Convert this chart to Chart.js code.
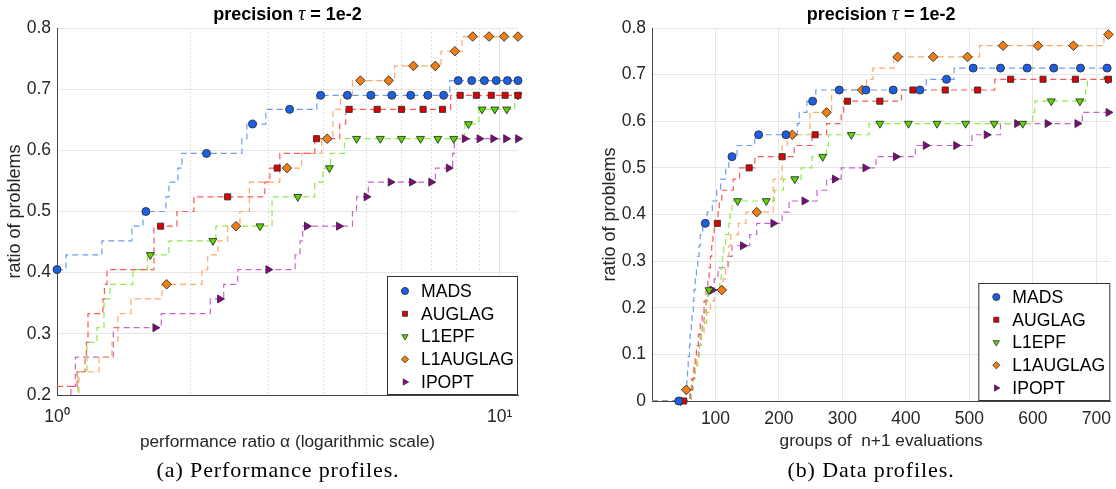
<!DOCTYPE html>
<html>
<head>
<meta charset="utf-8">
<script src="https://cdn.jsdelivr.net/npm/chart.js"></script>
<style>
  html, body { margin: 0; padding: 0; background: #fff; }
  body { width: 1116px; height: 489px; position: relative; overflow: hidden; }
  .panel { position: absolute; top: 0; }
  #perf-panel { left: 0; width: 540px; height: 460px; }
  #data-panel { left: 595px; width: 521px; height: 460px; }
  .caption {
    position: absolute; top: 458px; line-height: 24px;
    font-family: "Liberation Serif", serif; font-size: 22px; letter-spacing: 0.9px;
    color: #000; white-space: nowrap; transform: translateX(-50%);
  }
</style>
</head>
<body>
<div class="panel" id="perf-panel"><canvas id="perf-canvas" width="540" height="460"></canvas></div>
<div class="panel" id="data-panel"><canvas id="data-canvas" width="521" height="460"></canvas></div>
<div class="caption" style="left:278px">(a) Performance profiles.</div>
<div class="caption" style="left:871px">(b) Data profiles.</div>

<script>
// solvers and the look of their markers / lines
const solvers = ['MADS', 'AUGLAG', 'L1EPF', 'L1AUGLAG', 'IPOPT'];
const markerFill = ['#1a5fe4', '#e00000', '#5ad600', '#f07f12', '#8b008b'];
const lineColor = ['#6d9cf2', '#ff5757', '#90ea48', '#ffa866', '#c865c8'];
const markerShape = ['circle', 'rect', 'triangle', 'rectRot', 'triangle'];
const markerRotation = [0, 0, 180, 0, 90];
const markerRadius = [4, 4.3, 4.6, 4.8, 4.6];

const titleParts = ['precision ', '\u03c4', ' = 1e-2'];
const perfTickValues = [1, 2, 3, 4, 5, 6, 7, 8, 9, 10];
const perfTickLabels = ['10\u2070', '', '', '', '', '', '', '', '', '10\u00b9'];

// (a) performance profiles: [ratio alpha, share of problems]
const perfStepsMads = [[1, 0.405], [1.048, 0.429], [1.263, 0.452], [1.476, 0.476], [1.564, 0.5], [1.762, 0.524], [1.79, 0.548], [1.876, 0.571], [1.915, 0.595], [2.616, 0.619], [2.685, 0.643], [2.963, 0.667], [3.863, 0.69], [7.712, 0.714], [11, 0.714]];
const perfStepsAuglag = [[1, 0.214], [1.11, 0.238], [1.157, 0.262], [1.165, 0.286], [1.175, 0.333], [1.27, 0.357], [1.28, 0.381], [1.297, 0.405], [1.656, 0.476], [1.866, 0.5], [2.038, 0.524], [2.948, 0.548], [3.026, 0.571], [3.187, 0.595], [3.823, 0.619], [4.353, 0.643], [4.49, 0.667], [7.75, 0.69], [11, 0.69]];
const perfStepsL1epf = [[1, 0.19], [1.115, 0.238], [1.169, 0.286], [1.231, 0.31], [1.277, 0.357], [1.317, 0.381], [1.484, 0.405], [1.6, 0.429], [1.79, 0.452], [2.285, 0.476], [3.06, 0.524], [3.82, 0.548], [3.99, 0.571], [4.15, 0.595], [4.46, 0.619], [8.34, 0.643], [8.97, 0.667], [10.81, 0.69], [11, 0.69]];
const perfStepsL1auglag = [[1, 0.19], [1.121, 0.238], [1.244, 0.262], [1.331, 0.286], [1.373, 0.333], [1.469, 0.357], [1.727, 0.381], [2.126, 0.405], [2.19, 0.429], [2.31, 0.452], [2.43, 0.476], [2.59, 0.5], [2.72, 0.548], [3.187, 0.571], [3.57, 0.595], [3.96, 0.619], [4.2, 0.667], [4.37, 0.69], [4.65, 0.714], [5.79, 0.738], [7.37, 0.762], [8.22, 0.786], [11, 0.786]];
const perfStepsIpopt = [[1, 0.19], [1.075, 0.214], [1.1, 0.262], [1.34, 0.31], [1.72, 0.333], [2.22, 0.357], [2.38, 0.381], [2.56, 0.405], [3.45, 0.429], [3.54, 0.452], [3.59, 0.476], [4.65, 0.5], [4.75, 0.524], [5.05, 0.548], [7.16, 0.571], [7.83, 0.595], [7.9, 0.619], [11, 0.619]];

const perfMarksMads = [[1, 0.405], [1.588, 0.5], [2.176, 0.595], [2.765, 0.643], [3.353, 0.667], [3.941, 0.69], [4.529, 0.69], [5.118, 0.69], [5.706, 0.69], [6.294, 0.69], [6.882, 0.69], [7.471, 0.69], [8.059, 0.714], [8.647, 0.714], [9.235, 0.714], [9.824, 0.714], [10.412, 0.714], [11, 0.714]];
const perfMarksAuglag = [[1.714, 0.476], [2.429, 0.524], [3.143, 0.571], [3.857, 0.619], [4.571, 0.667], [5.286, 0.667], [6, 0.667], [6.714, 0.667], [7.429, 0.667], [8.143, 0.69], [8.857, 0.69], [9.571, 0.69], [10.286, 0.69], [11, 0.69]];
const perfMarksL1epf = [[1.625, 0.429], [2.25, 0.452], [2.875, 0.476], [3.5, 0.524], [4.125, 0.571], [4.75, 0.619], [5.375, 0.619], [6, 0.619], [6.625, 0.619], [7.25, 0.619], [7.875, 0.619], [8.5, 0.643], [9.125, 0.667], [9.75, 0.667], [10.375, 0.667], [11, 0.69]];
const perfMarksL1auglag = [[1.769, 0.381], [2.538, 0.476], [3.308, 0.571], [4.077, 0.619], [4.846, 0.714], [5.615, 0.714], [6.385, 0.738], [7.154, 0.738], [7.923, 0.762], [8.692, 0.786], [9.462, 0.786], [10.231, 0.786], [11, 0.786]];
const perfMarksIpopt = [[1.667, 0.31], [2.333, 0.357], [3, 0.405], [3.667, 0.476], [4.333, 0.476], [5, 0.524], [5.667, 0.548], [6.333, 0.548], [7, 0.548], [7.667, 0.571], [8.333, 0.619], [9, 0.619], [9.667, 0.619], [10.333, 0.619], [11, 0.619]];

// (b) data profiles: [groups of n+1 evaluations, share of problems]
const dataStepsMads = [[0, 0], [53, 0.024], [55, 0.048], [56, 0.071], [57, 0.095], [59, 0.119], [60, 0.143], [62, 0.167], [63, 0.19], [65, 0.214], [66, 0.238], [68, 0.262], [70, 0.286], [72, 0.31], [74, 0.333], [76, 0.357], [80, 0.381], [87, 0.405], [95, 0.429], [102, 0.452], [108, 0.476], [116, 0.5], [121, 0.524], [134, 0.548], [162, 0.571], [229, 0.595], [232, 0.619], [244, 0.643], [258, 0.667], [432, 0.69], [476, 0.714], [722, 0.714]];
const dataStepsAuglag = [[0, 0], [60, 0.024], [63, 0.048], [66, 0.071], [68, 0.095], [70, 0.119], [73, 0.143], [76, 0.167], [79, 0.19], [82, 0.214], [85, 0.238], [88, 0.262], [90, 0.286], [92, 0.31], [94, 0.333], [96, 0.357], [98, 0.381], [104, 0.405], [106, 0.429], [110, 0.452], [128, 0.476], [138, 0.5], [162, 0.524], [224, 0.548], [252, 0.571], [275, 0.595], [298, 0.619], [302, 0.643], [393, 0.667], [540, 0.69], [722, 0.69]];
const dataStepsL1epf = [[0, 0], [62, 0.024], [65, 0.048], [68, 0.071], [72, 0.095], [75, 0.119], [77, 0.143], [80, 0.167], [83, 0.19], [86, 0.214], [88, 0.238], [107, 0.262], [109, 0.286], [111, 0.31], [113, 0.333], [116, 0.357], [121, 0.381], [123, 0.405], [126, 0.429], [193, 0.452], [207, 0.476], [235, 0.5], [252, 0.524], [275, 0.548], [278, 0.571], [342, 0.595], [600, 0.619], [603, 0.643], [683, 0.667], [686, 0.69], [722, 0.69]];
const dataStepsL1auglag = [[0, 0], [52, 0.024], [62, 0.048], [66, 0.071], [70, 0.095], [74, 0.119], [78, 0.143], [82, 0.167], [86, 0.19], [92, 0.214], [98, 0.238], [112, 0.262], [116, 0.286], [119, 0.31], [121, 0.333], [124, 0.357], [136, 0.381], [148, 0.405], [191, 0.476], [205, 0.548], [213, 0.571], [249, 0.619], [283, 0.667], [338, 0.69], [348, 0.714], [381, 0.738], [516, 0.762], [712, 0.786], [722, 0.786]];
const dataStepsIpopt = [[0, 0], [60, 0.024], [64, 0.048], [67, 0.071], [70, 0.095], [73, 0.119], [76, 0.143], [79, 0.167], [82, 0.19], [85, 0.214], [88, 0.238], [98, 0.262], [104, 0.286], [120, 0.31], [126, 0.333], [154, 0.357], [165, 0.381], [205, 0.405], [216, 0.429], [260, 0.452], [275, 0.476], [298, 0.5], [353, 0.524], [415, 0.548], [504, 0.571], [549, 0.595], [678, 0.619], [722, 0.619]];

const dataMarksMads = [[42, 0], [84, 0.381], [126, 0.524], [168, 0.571], [211, 0.571], [253, 0.643], [295, 0.667], [337, 0.667], [380, 0.667], [422, 0.667], [464, 0.69], [506, 0.714], [549, 0.714], [591, 0.714], [633, 0.714], [675, 0.714], [717, 0.714]];
const dataMarksAuglag = [[50, 0], [103, 0.381], [153, 0.5], [205, 0.524], [257, 0.571], [308, 0.643], [359, 0.643], [411, 0.667], [462, 0.667], [513, 0.667], [565, 0.69], [616, 0.69], [667, 0.69], [719, 0.69]];
const dataMarksL1epf = [[45, 0], [90, 0.238], [135, 0.429], [180, 0.429], [225, 0.476], [269, 0.524], [314, 0.571], [359, 0.595], [404, 0.595], [449, 0.595], [494, 0.595], [539, 0.595], [584, 0.595], [629, 0.643], [674, 0.643], [718, 0.69]];
const dataMarksL1auglag = [[54, 0.024], [110, 0.238], [165, 0.405], [221, 0.571], [275, 0.619], [331, 0.667], [387, 0.738], [443, 0.738], [497, 0.738], [553, 0.762], [608, 0.762], [664, 0.762], [719, 0.786]];
const dataMarksIpopt = [[48, 0], [95, 0.238], [143, 0.333], [191, 0.381], [240, 0.429], [288, 0.476], [336, 0.5], [384, 0.524], [431, 0.548], [479, 0.548], [527, 0.571], [575, 0.595], [623, 0.595], [670, 0.595], [719, 0.619]];


const FONT = "'Liberation Sans', Arial, Helvetica, sans-serif";
const INK = '#262626';
const tickFont = { family: FONT, size: 17.5 };
const labelFont = { family: FONT, size: 17.3 };

function pts(arr) {
    return arr.map(([x, y]) => ({ x, y }));
}

function buildDatasets(steps, marks) {
    const sets = [];
    solvers.forEach((name, i) => {
        sets.push({
            label: name + ' curve',
            data: pts(steps[i]),
            showLine: true,
            stepped: true,
            borderColor: lineColor[i],
            borderWidth: 1.2,
            borderDash: [6, 4],
            pointRadius: 0,
            pointHoverRadius: 0,
            order: 2
        });
    });
    solvers.forEach((name, i) => {
        sets.push({
            label: name,
            isMarker: true,
            data: pts(marks[i]),
            showLine: false,
            pointStyle: markerShape[i],
            pointRotation: markerRotation[i],
            pointRadius: markerRadius[i],
            pointBackgroundColor: markerFill[i],
            pointBorderColor: '#303030',
            pointBorderWidth: 0.9,
            clip: false,
            order: 1
        });
    });
    return sets;
}

// bold title with an italic tau, centred over the plot area
const mixedTitle = {
    id: 'mixedTitle',
    afterDraw(chart, args, opts) {
        const { ctx, chartArea } = chart;
        const parts = [
            { text: titleParts[0], font: `bold 18px ${FONT}` },
            { text: titleParts[1], font: `italic 20px 'Liberation Serif', serif` },
            { text: titleParts[2], font: `bold 18px ${FONT}` }
        ];
        ctx.save();
        let total = 0;
        parts.forEach(p => { ctx.font = p.font; p.w = ctx.measureText(p.text).width; total += p.w; });
        let x = (chartArea.left + chartArea.right) / 2 - total / 2;
        ctx.fillStyle = '#000';
        ctx.textAlign = 'left';
        ctx.textBaseline = 'alphabetic';
        parts.forEach(p => { ctx.font = p.font; ctx.fillText(p.text, x, opts.baseline); x += p.w; });
        ctx.restore();
    }
};

// matlab-like legend box in the lower right corner of the plot
const boxLegend = {
    id: 'boxLegend',
    afterDraw(chart, args, opts) {
        const { ctx, chartArea } = chart;
        const left = chartArea.right - opts.width;
        const top = chartArea.bottom - opts.height;
        ctx.save();
        ctx.fillStyle = '#fff';
        ctx.fillRect(left, top, opts.width, opts.height);
        ctx.strokeStyle = '#333';
        ctx.lineWidth = 1;
        ctx.strokeRect(left + 0.5, top + 0.5, opts.width - 1, opts.height - 1);
        ctx.font = `17.6px ${FONT}`;
        ctx.textBaseline = 'middle';
        ctx.textAlign = 'left';
        chart.data.datasets.filter(d => d.isMarker).forEach((d, i) => {
            const y = top + opts.firstRow + i * opts.rowGap;
            ctx.fillStyle = d.pointBackgroundColor;
            ctx.strokeStyle = '#303030';
            ctx.lineWidth = 0.8;
            Chart.helpers.drawPoint(ctx, {
                pointStyle: d.pointStyle, rotation: d.pointRotation, radius: 3.6, borderWidth: 0.8
            }, left + 18, y);
            ctx.fillStyle = '#000';
            ctx.fillText(d.label, left + 34, y + 1);
        });
        ctx.restore();
    }
};

function yAxis(min) {
    return {
        min: min,
        max: 0.8,
        ticks: {
            stepSize: 0.1, padding: 6, font: tickFont, color: INK,
            callback: v => (Math.abs(v) < 1e-9 ? '0' : v.toFixed(1))
        },
        grid: { drawTicks: false, color: '#e6e6e6' },
        border: { color: '#444' },
        title: { display: true, text: 'ratio of problems', font: { family: FONT, size: 18 }, color: INK, padding: { top: 4, bottom: 0 } },
        afterFit: s => { s.width = 57; s.paddingTop = 0; s.paddingBottom = 0; }
    };
}

const isMajorLog = c => !c.tick || c.tick.value === 1 || c.tick.value === 10;

new Chart(document.getElementById('perf-canvas').getContext('2d'), {
    type: 'scatter',
    data: {
        datasets: buildDatasets(
            [perfStepsMads, perfStepsAuglag, perfStepsL1epf, perfStepsL1auglag, perfStepsIpopt],
            [perfMarksMads, perfMarksAuglag, perfMarksL1epf, perfMarksL1auglag, perfMarksIpopt])
    },
    options: {
        responsive: false,
        animation: false,
        layout: { padding: { top: 28, right: 22, bottom: 0, left: 0 } },
        plugins: {
            legend: { display: false },
            tooltip: { enabled: false },
            mixedTitle: { baseline: 20 },
            boxLegend: { width: 131, height: 119, firstRow: 15, rowGap: 22.75 }
        },
        scales: {
            x: {
                type: 'logarithmic',
                min: 1,
                max: 11,
                afterBuildTicks: s => { s.ticks = perfTickValues.map(v => ({ value: v })); },
                ticks: {
                    autoSkip: false, maxRotation: 0, padding: 12, font: tickFont, color: INK,
                    callback: (v, i) => perfTickLabels[i]
                },
                grid: { drawTicks: false, color: c => (isMajorLog(c) ? '#e3e3e3' : '#d4d4d4') },
                border: { color: '#444', dash: c => (isMajorLog(c) ? [] : [1.5, 2.5]) },
                title: {
                    display: true, text: 'performance ratio \u03b1 (logarithmic scale)',
                    font: labelFont, color: INK, padding: { top: 0, bottom: 7 }
                },
                afterFit: s => { s.height = 65; s.paddingLeft = 0; s.paddingRight = 0; }
            },
            y: yAxis(0.2)
        }
    },
    plugins: [mixedTitle, boxLegend]
});

new Chart(document.getElementById('data-canvas').getContext('2d'), {
    type: 'scatter',
    data: {
        datasets: buildDatasets(
            [dataStepsMads, dataStepsAuglag, dataStepsL1epf, dataStepsL1auglag, dataStepsIpopt],
            [dataMarksMads, dataMarksAuglag, dataMarksL1epf, dataMarksL1auglag, dataMarksIpopt])
    },
    options: {
        responsive: false,
        animation: false,
        layout: { padding: { top: 28, right: 1, bottom: 0, left: 0 } },
        plugins: {
            legend: { display: false },
            tooltip: { enabled: false },
            mixedTitle: { baseline: 20 },
            boxLegend: { width: 132, height: 118, firstRow: 14, rowGap: 22.75 }
        },
        scales: {
            x: {
                type: 'linear',
                min: 0,
                max: 722,
                ticks: {
                    stepSize: 100, includeBounds: false, autoSkip: false, maxRotation: 0,
                    padding: 8, font: tickFont, color: INK,
                    callback: v => (v === 0 ? '' : v)
                },
                grid: { drawTicks: false, color: '#e6e6e6' },
                border: { color: '#444' },
                title: {
                    display: true, text: 'groups of  n+1 evaluations',
                    font: labelFont, color: INK, padding: { top: 0, bottom: 8 }
                },
                afterFit: s => { s.height = 59; s.paddingLeft = 0; s.paddingRight = 0; }
            },
            y: yAxis(0)
        }
    },
    plugins: [mixedTitle, boxLegend]
});
</script>
</body>
</html>
